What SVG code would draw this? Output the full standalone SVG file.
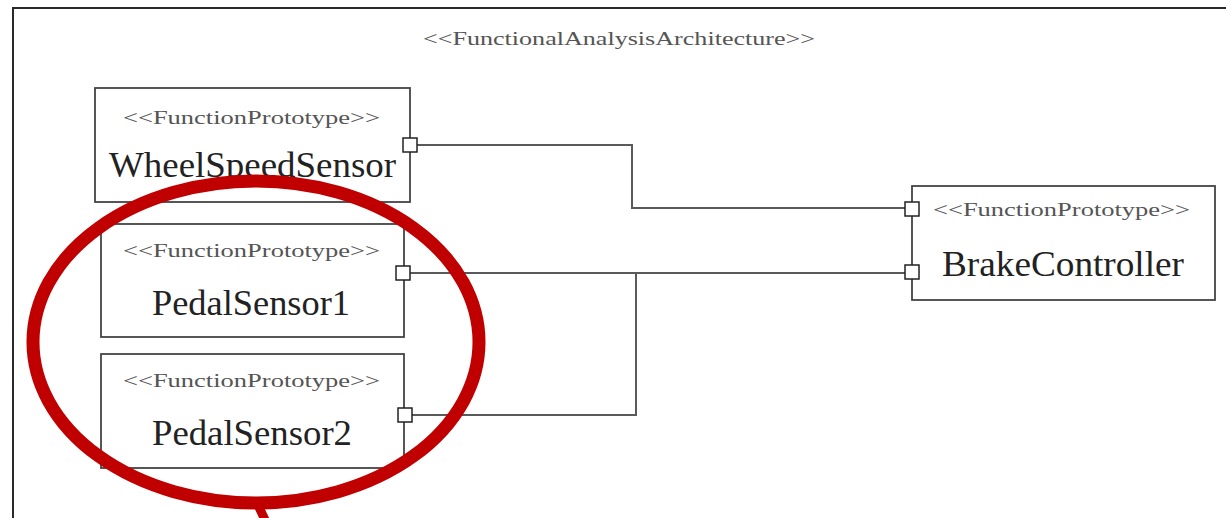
<svg xmlns="http://www.w3.org/2000/svg" width="1226" height="518" viewBox="0 0 1226 518">
  <style>
    .frame { fill: #ffffff; stroke: #2a2a2a; stroke-width: 2; }
    .box { fill: #ffffff; stroke: #444444; stroke-width: 1.8; }
    .port { fill: #ffffff; stroke: #222222; stroke-width: 1.5; }
    .wire { fill: none; stroke: #5a5a5a; stroke-width: 2; }
    .stereo { font-family: "Liberation Serif", "Times New Roman", serif; font-size: 19px; fill: #555555; }
    .name { font-family: "Liberation Serif", "Times New Roman", serif; font-size: 35px; fill: #222222; }
    .title { font-family: "Liberation Serif", "Times New Roman", serif; font-size: 19px; fill: #555555; }
    .mark { fill: none; stroke: #c00000; stroke-width: 13; }
  </style>

  <rect width="1226" height="518" fill="#ffffff"/>

  <!-- architecture frame -->
  <g id="architecture">
    <rect class="frame" x="13" y="8" width="1300" height="600"/>
    <text class="title" x="423" y="45" textLength="392" lengthAdjust="spacingAndGlyphs">&lt;&lt;FunctionalAnalysisArchitecture&gt;&gt;</text>
  </g>

  <!-- connectors -->
  <g id="connectors">
    <polyline class="wire" points="417,145 632,145 632,208 905,208"/>
    <polyline class="wire" points="410,273 905,273"/>
    <polyline class="wire" points="412,415 636,415 636,273"/>
  </g>

  <g id="WheelSpeedSensor">
    <rect class="box" x="95" y="88" width="315" height="114"/>
    <text class="stereo" x="123" y="124" textLength="257" lengthAdjust="spacingAndGlyphs">&lt;&lt;FunctionPrototype&gt;&gt;</text>
    <text class="name" x="109" y="177" textLength="287" lengthAdjust="spacingAndGlyphs">WheelSpeedSensor</text>
    <rect class="port" x="403" y="138" width="14" height="14"/>
  </g>

  <g id="PedalSensor1">
    <rect class="box" x="101" y="224" width="303" height="113"/>
    <text class="stereo" x="123" y="257" textLength="257" lengthAdjust="spacingAndGlyphs">&lt;&lt;FunctionPrototype&gt;&gt;</text>
    <text class="name" x="152" y="315" textLength="198" lengthAdjust="spacingAndGlyphs">PedalSensor1</text>
    <rect class="port" x="396" y="266" width="14" height="14"/>
  </g>

  <g id="PedalSensor2">
    <rect class="box" x="101" y="354" width="303" height="114"/>
    <text class="stereo" x="123" y="387" textLength="257" lengthAdjust="spacingAndGlyphs">&lt;&lt;FunctionPrototype&gt;&gt;</text>
    <text class="name" x="152" y="445" textLength="200" lengthAdjust="spacingAndGlyphs">PedalSensor2</text>
    <rect class="port" x="398" y="408" width="14" height="14"/>
  </g>

  <g id="BrakeController">
    <rect class="box" x="912" y="186" width="303" height="114"/>
    <text class="stereo" x="933" y="216" textLength="257" lengthAdjust="spacingAndGlyphs">&lt;&lt;FunctionPrototype&gt;&gt;</text>
    <text class="name" x="942" y="276" textLength="242" lengthAdjust="spacingAndGlyphs">BrakeController</text>
    <rect class="port" x="905" y="202" width="14" height="14"/>
    <rect class="port" x="905" y="265" width="14" height="14"/>
  </g>

  <!-- red highlight round the pedal sensors -->
  <g id="highlight">
    <ellipse class="mark" cx="256" cy="342" rx="223" ry="161"/>
    <line x1="257" y1="503" x2="266" y2="522" stroke="#c00000" stroke-width="9"/>
  </g>
</svg>
